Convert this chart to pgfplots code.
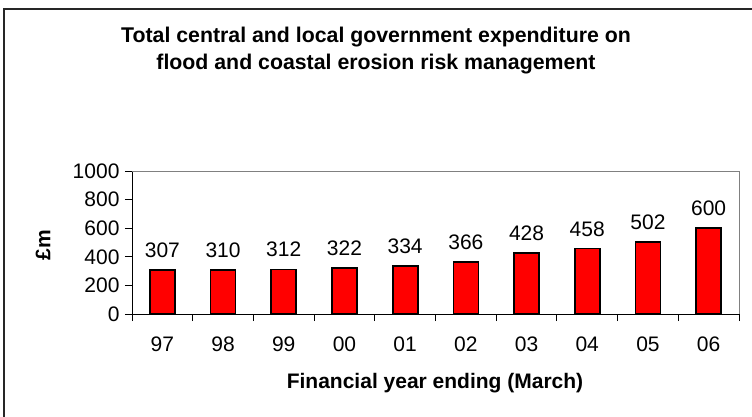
\documentclass[border=0pt]{standalone}
\usepackage{pgfplots}
\pgfplotsset{compat=1.18}
\usepackage{fontspec}
\setmainfont{Liberation Sans}
\begin{document}
\begin{tikzpicture}[x=1pt,y=1pt]
\useasboundingbox (0,0) rectangle (752,416);
\draw[line width=1.3pt, black!85] (4,-20) -- (4,407) -- (770,407);
\node[font=\bfseries\fontsize{21.3}{27}\selectfont, align=center] at (376,365) {Total central and local government expenditure on\\flood and coastal erosion risk management};
\node[rotate=90, font=\bfseries\fontsize{21}{24}\selectfont] at (43,171) {£m};
\node[font=\bfseries\fontsize{21}{24}\selectfont] at (435,33) {Financial year ending (March)};
\begin{axis}[at={(132pt,102pt)}, anchor=south west, scale only axis,
  width=607pt, height=143pt,
  xmin=-0.5, xmax=9.5, ymin=0, ymax=1000,
  ytick={0,200,...,1000},
  xtick={0,...,9}, xticklabels={97,98,99,00,01,02,03,04,05,06},
  minor xtick={-0.5,0.5,...,9.5},
  axis x line*=bottom, axis y line*=left,
  axis line style={black, line width=1pt, -},
  tick align=outside,
  major tick length=7pt, minor tick length=7pt,
  major x tick style={draw=none},
  minor x tick style={black, line width=0.9pt},
  y tick style={black, line width=0.9pt},
  ticklabel style={font=\fontsize{21}{24}\selectfont},
  xticklabel style={yshift=-12pt},
  yticklabel style={xshift=-2pt},
  /pgf/number format/assume math mode=true,
  /pgf/number format/set thousands separator={},
  clip=false,
  ybar, bar width=25pt,
  nodes near coords,
  every node near coord/.append style={font=\fontsize{21}{24}\selectfont, yshift=8pt, black},
]
\addplot[fill=red, draw=black, line width=1.7pt] coordinates {
 (0,307) (1,310) (2,312) (3,322) (4,334) (5,366) (6,428) (7,458) (8,502) (9,600)};
\draw[gray, line width=1pt] (rel axis cs:0,1) -- (rel axis cs:1,1) -- (rel axis cs:1,0);
\end{axis}
\end{tikzpicture}
\end{document}
